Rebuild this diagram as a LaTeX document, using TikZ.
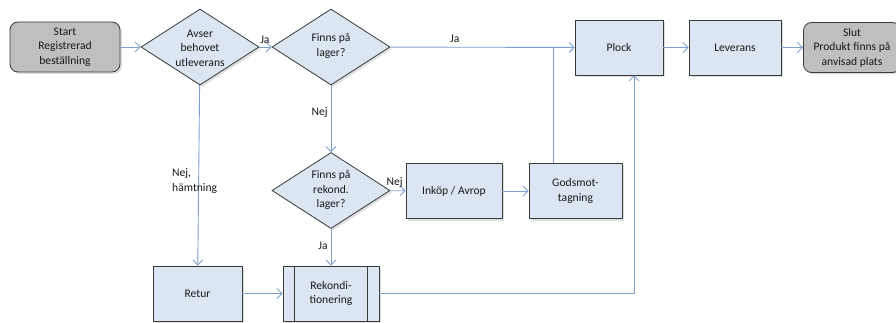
\documentclass[tikz,border=0pt]{standalone}
\usepackage{fontspec}
\setmainfont{Carlito}
\usetikzlibrary{shapes.geometric,arrows.meta,shadows}
\definecolor{boxfill}{HTML}{DCE6F2}
\definecolor{boxline}{HTML}{3A3A3A}
\definecolor{termfill}{HTML}{BFBFBF}
\definecolor{conn}{HTML}{7FA0CF}
\begin{document}
\begin{tikzpicture}[x=1pt,y=-1pt,
  font=\fontsize{11.6}{14.5}\selectfont,
  every node/.style={text=black!90},
  shad/.style={drop shadow={opacity=0.25,shadow xshift=2pt,shadow yshift=-2pt}},
  procbox/.style={draw=boxline,fill=boxfill,line width=0.8pt,shad,align=center,minimum width=#1,minimum height=55,inner sep=0},
  termbox/.style={draw=boxline,fill=termfill,line width=0.8pt,rounded corners=8pt,shad,align=center,minimum width=#1,minimum height=50,inner sep=0},
  dia/.style={diamond,draw=boxline,fill=boxfill,line width=0.8pt,aspect=1.55,minimum width=118,minimum height=76,inner sep=0,shad},
  txt/.style={align=center,inner sep=0},
  lbl/.style={inner sep=0},
  conn/.style={draw=conn,line width=0.9pt},
  arr/.style={conn,-{Straight Barb[length=5pt,width=10pt,line width=0.9pt]}}
]
\useasboundingbox (0,0) rectangle (896,323);
% nodes
\node[termbox=110] (start) at (65,47) {Start\\Registrerad\\beställning};
\node[dia] (d1) at (200,47) {};
\node[txt] at (200,48) {Avser\\behovet\\utleverans};
\node[dia] (d2) at (331,47) {};
\node[txt] at (331,46) {Finns på\\lager?};
\node[procbox=88] (plock) at (619,47.5) {Plock};
\node[procbox=92] (lev) at (735,47.5) {Leverans};
\node[termbox=97] (slut) at (852,47.5) {Slut\\Produkt finns på\\anvisad plats};
\node[dia] (d3) at (331,190.5) {};
\node[txt] at (331,190) {Finns på\\rekond.\\lager?};
\node[procbox=96] (inkop) at (454,191) {Inköp / Avrop};
\node[procbox=93] (gods) at (575.5,191) {Godsmot-\\tagning};
\node[procbox=89] (retur) at (197.5,293.5) {Retur};
\node[procbox=96] (rek) at (331,293.5) {Rekondi-\\tionering};
\draw[boxline,line width=0.8pt] ([xshift=12pt]rek.north west) -- ([xshift=12pt]rek.south west)
  ([xshift=-12pt]rek.north east) -- ([xshift=-12pt]rek.south east);
% connectors
\draw[arr] (start) -- (d1);
\draw[arr] (d1) -- node[lbl,above=3pt,pos=0.45]{Ja} (d2);
\draw[arr] (d2) -- node[lbl,above=4pt,pos=0.35]{Ja} (plock);
\coordinate (j) at (553,47);
\draw[conn] (gods.north -| j) -- (j);
\draw[arr] (d2) -- node[lbl,left=3pt,pos=0.4]{Nej} (d3);
\draw[arr] (d3) -- node[lbl,above=3pt,pos=0.3]{Nej} (inkop);
\draw[arr] (inkop) -- (gods);
\draw[arr] (d1) -- (retur);
\node[lbl,align=left,anchor=west] at (172,181) {Nej,\\hämtning};
\draw[arr] (d3) -- node[lbl,left=3pt,pos=0.45]{Ja} (rek);
\draw[arr] (retur) -- (rek);
\draw[arr] (rek.east) -| ([xshift=15pt]plock.south);
\draw[arr] (plock) -- (lev);
\draw[arr] (lev) -- (slut);
\end{tikzpicture}
\end{document}
